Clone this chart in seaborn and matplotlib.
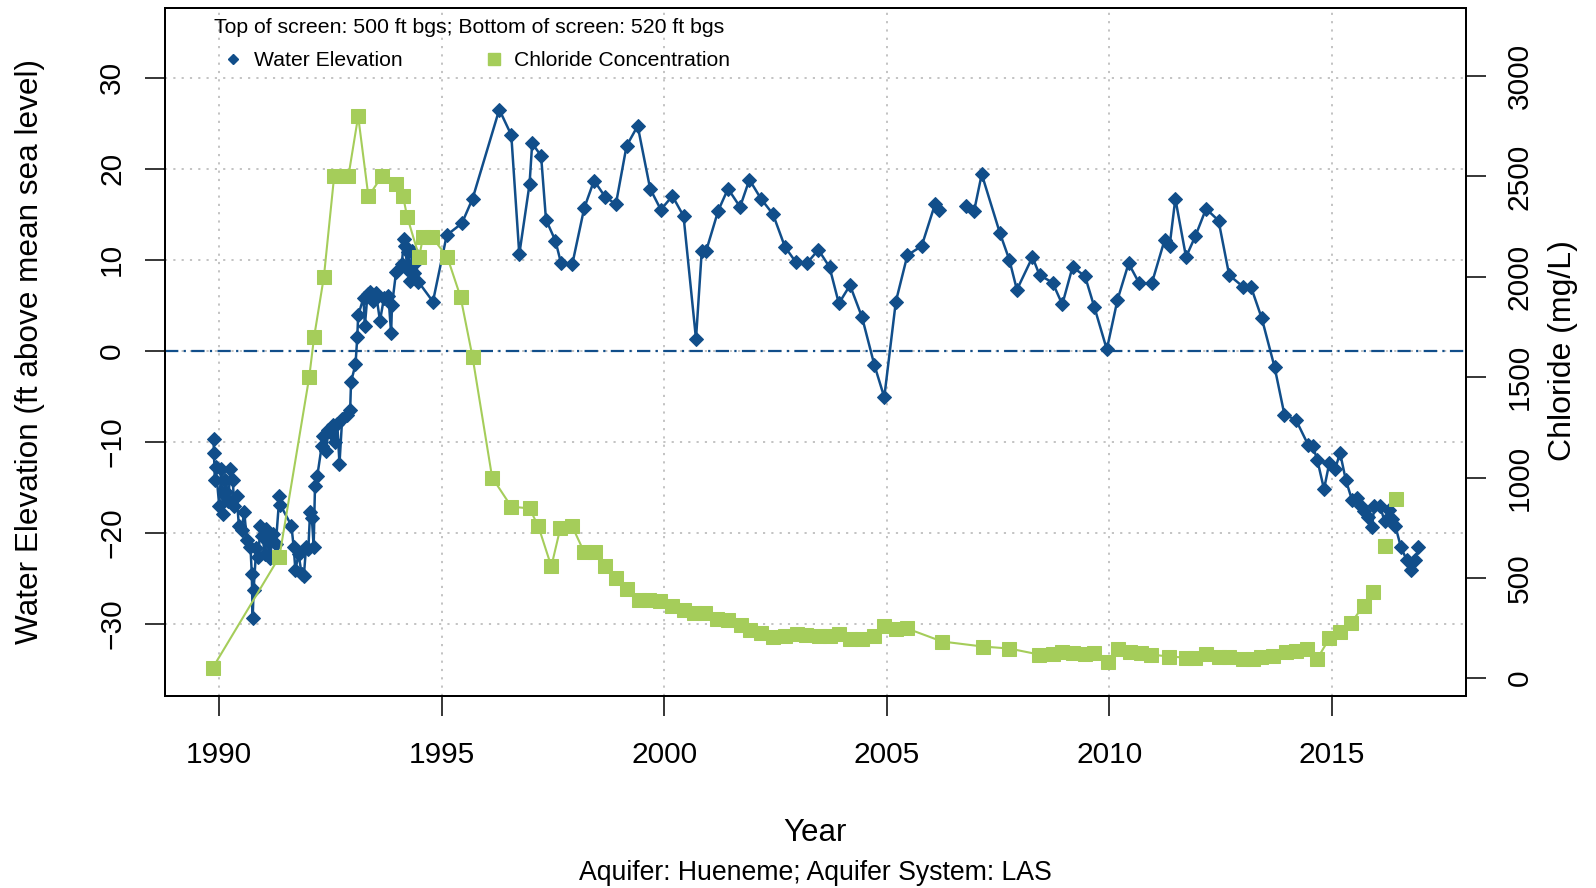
import numpy as np
import matplotlib
matplotlib.use("Agg")
import matplotlib.pyplot as plt
import pandas as pd
import seaborn as sns
from matplotlib.lines import Line2D

# water elevation (ft above msl); nan = gap in the record
elev_year = [
    1989.87, 1989.88, 1989.90, 1989.92, 1990.00, 1990.04, 1990.08, 1990.12, 1990.16, 1990.20,
    1990.25, 1990.30, 1990.34, 1990.39, 1990.44, 1990.50, 1990.56, 1990.62, 1990.70, 1990.73,
    1990.75, 1990.77, 1990.83, 1990.88, 1990.92, 1990.97, 1991.02, 1991.06, 1991.10, 1991.14,
    1991.20, 1991.27, 1991.35, 1991.37, 1991.62, 1991.67, 1991.71, 1991.78, 1991.85, 1991.90,
    1991.95, 1992.00, 1992.04, 1992.08, 1992.12, 1992.15, 1992.20, 1992.30, 1992.34, 1992.40,
    1992.45, 1992.50, 1992.55, 1992.60, 1992.65, 1992.70, 1992.76, 1992.86, 1992.94, 1992.96,
    1993.06, 1993.10, 1993.12, 1993.24, 1993.27, 1993.33, 1993.39, 1993.45, 1993.52, 1993.61,
    1993.70, 1993.80, 1993.86, 1993.88, 1993.97, 1994.10, 1994.15, 1994.18, 1994.22, 1994.25,
    1994.29, 1994.33, 1994.38, 1994.42, 1994.47, 1994.80, 1995.11, 1995.45, 1995.69, 1996.29,
    1996.56, 1996.74, 1996.97, 1997.03, 1997.23, 1997.34, 1997.55, 1997.68, 1997.93, 1998.20,
    1998.42, 1998.67, 1998.91, 1999.15, 1999.40, 1999.68, 1999.92, 2000.18, 2000.43, 2000.71,
    2000.84, 2000.94, 2001.21, 2001.43, 2001.70, 2001.91, 2002.17, 2002.44, 2002.71, 2002.96,
    2003.20, 2003.46, 2003.71, 2003.92, 2004.17, 2004.44, 2004.72, 2004.94, 2005.20, 2005.46,
    2005.78, 2006.08, 2006.18, 2006.50, 2006.77, 2006.96, 2007.13, 2007.54, 2007.75, 2007.92,
    2008.27, 2008.43, 2008.72, 2008.94, 2009.17, 2009.45, 2009.66, 2009.94, 2010.18, 2010.43,
    2010.67, 2010.95, 2011.24, 2011.35, 2011.48, 2011.72, 2011.93, 2012.17, 2012.45, 2012.69,
    2013.01, 2013.18, 2013.42, 2013.71, 2013.93, 2014.19, 2014.46, 2014.57, 2014.67, 2014.82,
    2014.94, 2015.07, 2015.18, 2015.31, 2015.45, 2015.56, 2015.65, 2015.72, 2015.80, 2015.90,
    2015.95, 2016.08, 2016.18, 2016.27, 2016.35, 2016.42, 2016.55, 2016.68, 2016.78, 2016.87,
    2016.94,
]
elev_ft = [
    -9.7, -11.2, -14.2, -12.8, -17.1, -13.0, -17.9, -14.2, -15.5, -16.5,
    -13.0, -14.2, -17.1, -16.0, -19.2, -19.7, -17.7, -20.8, -21.5, -24.5,
    -29.4, -26.3, -21.7, -22.6, -19.2, -20.3, -22.3, -19.6, -21.0, -22.8,
    -20.1, -21.2, -16.0, -16.9, -19.2, -21.5, -24.1, -22.3, -24.5, -24.7,
    -21.5, -21.8, -17.7, -18.4, -21.5, -14.8, -13.8, -10.5, -9.4, -11.0,
    -8.7, -9.0, -8.2, -10.0, -8.0, -12.4, -7.5, -7.0, -6.5, -3.4,
    -1.5, 1.5, 3.9, 5.8, 2.7, 6.2, 6.5, 5.5, 6.3, 3.3,
    5.8, 6.0, 1.9, 5.0, 8.6, 9.5, 12.3, 11.5, 9.0, 10.8,
    7.7, 11.0, 8.5, 9.8, 7.6, 5.4, 12.7, 14.0, 16.7, 26.5,
    23.7, 10.6, 18.3, 22.8, 21.4, 14.4, 12.1, 9.6, 9.5, 15.7,
    18.7, 16.9, 16.1, 22.5, 24.7, 17.8, 15.5, 17.0, 14.8, 1.3,
    11.0, 11.0, 15.4, 17.8, 15.8, 18.8, 16.7, 15.0, 11.4, 9.7,
    9.6, 11.1, 9.2, 5.2, 7.2, 3.7, -1.6, -5.1, 5.4, 10.5,
    11.5, 16.1, 15.5, np.nan, 15.9, 15.4, 19.4, 12.9, 10.0, 6.7,
    10.3, 8.3, 7.5, 5.1, 9.2, 8.2, 4.8, 0.15, 5.6, 9.6,
    7.4, 7.4, 12.2, 11.5, 16.7, 10.3, 12.6, 15.6, 14.3, 8.3,
    7.0, 7.0, 3.6, -1.8, -7.0, -7.6, -10.3, -10.5, -12.0, -15.2,
    -12.3, -13.0, -11.2, -14.2, -16.4, -16.2, -17.0, -17.6, -18.3, -19.3,
    -17.0, -17.1, -18.7, -17.5, -18.5, -19.2, -21.6, -23.0, -24.1, -23.0,
    -21.6,
]

# chloride concentration (mg/L); nan = gap in the record
chl_year = [
    1989.85, 1991.35, 1992.02, 1992.13, 1992.35, 1992.58, 1992.90, 1993.12, 1993.35, 1993.65,
    1993.97, 1994.13, 1994.22, 1994.49, 1994.58, 1994.77, 1995.12, 1995.42, 1995.69, 1996.13,
    1996.56, 1996.97, 1997.17, 1997.46, 1997.66, 1997.93, 1998.20, 1998.43, 1998.67, 1998.92,
    1999.17, 1999.42, 1999.66, 1999.91, 2000.18, 2000.43, 2000.67, 2000.92, 2001.19, 2001.42,
    2001.71, 2001.93, 2002.18, 2002.43, 2002.72, 2002.97, 2003.19, 2003.48, 2003.71, 2003.93,
    2004.18, 2004.45, 2004.72, 2004.94, 2005.20, 2005.45, 2006.24, 2007.15, 2007.75, 2008.42,
    2008.72, 2008.94, 2009.17, 2009.44, 2009.66, 2009.96, 2010.19, 2010.46, 2010.71, 2010.93,
    2011.34, 2011.71, 2011.93, 2012.17, 2012.45, 2012.69, 2013.01, 2013.23, 2013.41, 2013.68,
    2013.96, 2014.18, 2014.43, 2014.67, 2014.94, 2015.17, 2015.42, 2015.71, 2015.93, 2016.05,
    2016.20, 2016.30, 2016.43,
]
chl_mgl = [
    51, 605, 1500, 1700, 2000, 2500, 2500, 2800, 2400, 2500,
    2460, 2400, 2300, 2100, 2200, 2200, 2100, 1900, 1600, 1000,
    855, 846, 756, 557, 746, 756, 627, 627, 557, 497,
    447, 392, 392, 387, 362, 342, 327, 327, 293, 288,
    263, 238, 223, 203, 208, 218, 213, 208, 208, 218,
    193, 193, 208, 258, 243, 248, 183, 158, 148, 118,
    123, 133, 128, 123, 128, 83, 148, 133, 128, 118,
    108, 103, 103, 123, 108, 108, 98, 98, 108, 113,
    133, 138, 148, 98, 198, 231, 273, 362, 432, np.nan,
    658, np.nan, 891,
]

x_ticks = [1990, 1995, 2000, 2005, 2010, 2015]
elev_ticks = [-30, -20, -10, 0, 10, 20, 30]
chl_ticks = [0, 500, 1000, 1500, 2000, 2500, 3000]

BLUE = "#114E8A"
GREEN = "#A5CD5A"


def to_frame(x, y, name):
    d = pd.DataFrame({"year": x, name: y})
    d["seg"] = d[name].isna().cumsum()
    return d.dropna().reset_index(drop=True)


elev = to_frame(elev_year, elev_ft, "elev")
chl = to_frame(chl_year, chl_mgl, "chl")

sns.set_style("ticks")
plt.rcParams["font.family"] = ["Liberation Sans", "DejaVu Sans"]
plt.rcParams["text.color"] = "black"
plt.rcParams["xtick.color"] = "black"
plt.rcParams["ytick.color"] = "black"
plt.rcParams["axes.labelcolor"] = "black"

W, H = 1596, 888
fig = plt.figure(figsize=(W / 100, H / 100), dpi=100)
ax = fig.add_axes([165 / W, 1 - 695.5 / H, (1466 - 165) / W, (695.5 - 8) / H])

ax.set_xlim(1988.78, 2018.01)
ax.set_ylim(-37.86, 37.65)
ax.set_xticks(x_ticks)
ax.set_yticks(elev_ticks)
ax.grid(True, color="#BEBEBE", linestyle=(0, (1.2, 3.4)), linewidth=1.3)
ax.axhline(0, color=BLUE, linewidth=1.6, linestyle=(0, (6.0, 2.4, 1.0, 2.4)), zorder=1)

sns.lineplot(data=elev, x="year", y="elev", units="seg", estimator=None, sort=False,
             color=BLUE, linewidth=1.8, marker="D", markersize=7.3,
             markeredgecolor=BLUE, ax=ax, legend=False, zorder=3)

ax2 = ax.twinx()
ax2.set_ylim(-86, 3339)
ax2.set_yticks(chl_ticks)
sns.lineplot(data=chl, x="year", y="chl", units="seg", estimator=None, sort=False,
             color=GREEN, linewidth=1.5, marker="s", markersize=10.5,
             markeredgecolor=GREEN, ax=ax2, legend=False, zorder=3)

for a in (ax, ax2):
    a.set_xlabel("")
    a.set_ylabel("")
    for s in a.spines.values():
        s.set_visible(True)
        s.set_linewidth(1.4)
        s.set_color("black")
    a.tick_params(length=14.5, width=1.1, color="black", labelcolor="black", labelsize=21.5)

ax.tick_params(axis="x", pad=18.5)
ax.tick_params(axis="y", pad=13.5)
ax2.tick_params(axis="y", pad=14)
for lab in ax.get_yticklabels():
    lab.set_rotation(90)
    lab.set_va("center")
for lab in ax2.get_yticklabels():
    lab.set_rotation(90)
    lab.set_va("center")

fig.text(30.5 / W, 1 - 352 / H, "Water Elevation (ft above mean sea level)",
         rotation=90, ha="center", va="center", fontsize=22.7)
fig.text(1563 / W, 1 - 351 / H, "Chloride (mg/L)",
         rotation=90, ha="center", va="center", fontsize=23)
fig.text(815 / W, 1 - 833 / H, "Year", ha="center", va="center", fontsize=22.5)
fig.text(815 / W, 1 - 873 / H, "Aquifer: Hueneme; Aquifer System: LAS",
         ha="center", va="center", fontsize=19.2)
fig.text(213.5 / W, 1 - 27.5 / H, "Top of screen: 500 ft bgs; Bottom of screen: 520 ft bgs",
         ha="left", va="center", fontsize=15.3)

handles = [
    Line2D([], [], color=BLUE, marker="D", linestyle="none", markersize=5.5),
    Line2D([], [], color=GREEN, marker="s", linestyle="none", markersize=8),
]
ax2.legend(handles, ["Water Elevation", "Chloride Concentration"], ncol=2,
           loc="center left", bbox_to_anchor=(222.5 / W, 1 - 61 / H),
           bbox_transform=fig.transFigure, frameon=False, fontsize=15.2,
           borderpad=0, borderaxespad=0, handlelength=1.0, handletextpad=0.47,
           columnspacing=3.85)

fig.savefig("out.png", dpi=100)
